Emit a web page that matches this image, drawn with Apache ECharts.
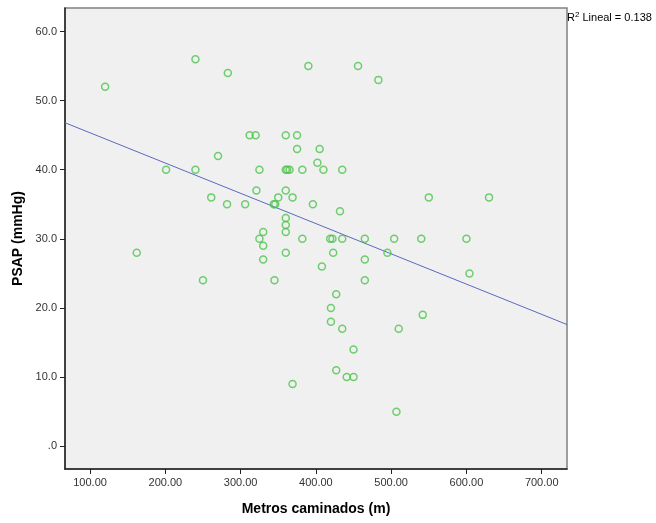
<!DOCTYPE html>
<html>
<head>
<meta charset="utf-8">
<script src="https://cdn.jsdelivr.net/npm/echarts@6/dist/echarts.min.js"></script>
<style>html,body{margin:0;padding:0;background:#fff}#c{width:656px;height:523px}</style>
</head>
<body>
<div id="c"></div>
<script>
// Metros caminados (m)
const metros = [120,162,201,240,240,250,261,270,282,283,306,312,320,321,325,325,330,330,330,344,346,345,350,360,360,362,365,360,360,360,360,360,369,369,375,375,382,382,390,396,402,405,408,410,419,422,420,420,423,427,427,432,435,435,435,441,450,450,456,465,465,465,483,495,504,507,510,540,542,550,600,604,630];
// PSAP (mmHg)
const psap   = [52,28,40,56,40,24,36,42,35,54,35,45,45,37,40,30,31,29,27,35,35,24,36,45,40,40,40,37,33,32,31,28,36,9,45,43,40,30,55,35,41,43,26,40,30,30,20,18,28,22,11,34,40,30,17,10,14,10,55,30,27,24,53,28,30,5,17,30,19,36,30,25,36];
// Linear fit line endpoints
const fitX = [66.7, 733.6];
const fitY = [46.8, 17.6];
const xTicks = [100,200,300,400,500,600,700];
const yTicks = [0,10,20,30,40,50,60];
const r2Text = '0.138';

const chart = echarts.init(document.getElementById('c'));
const labelStyle = {color:'#333', fontSize:11, fontFamily:'Liberation Sans, Arial, sans-serif'};
chart.setOption({
  animation:false,
  grid:{left:65, right:89, top:8, bottom:54, show:true, backgroundColor:'#f0f0f0', borderColor:'#808080', borderWidth:1.5},
  xAxis:{
    type:'value', min:66.7, max:733.6,
    name:'Metros caminados (m)', nameLocation:'middle', nameGap:33,
    nameTextStyle:{fontSize:14, fontWeight:'bold', color:'#000', fontFamily:'Liberation Sans, Arial, sans-serif'},
    axisLine:{show:true, onZero:false, lineStyle:{color:'#222', width:1.5}},
    axisTick:{show:true, length:5, customValues:xTicks, lineStyle:{color:'#222'}},
    axisLabel:Object.assign({customValues:xTicks, margin:8, formatter:v=>v.toFixed(2)}, labelStyle),
    splitLine:{show:false}
  },
  yAxis:{
    type:'value', min:-3.3, max:63.4,
    name:'PSAP (mmHg)', nameLocation:'middle', nameGap:40,
    nameTextStyle:{fontSize:14, fontWeight:'bold', color:'#000', fontFamily:'Liberation Sans, Arial, sans-serif'},
    axisLine:{show:true, onZero:false, lineStyle:{color:'#222', width:1.5}},
    axisTick:{show:true, length:5, customValues:yTicks, lineStyle:{color:'#222'}},
    axisLabel:Object.assign({customValues:yTicks, margin:8, formatter:v=>v===0?'.0':v.toFixed(1)}, labelStyle),
    splitLine:{show:false}
  },
  graphic:[{
    type:'text', left:567, top:11,
    style:{
      text:'R{sup|2} Lineal = '+r2Text,
      fill:'#000', fontSize:11, fontFamily:'Liberation Sans, Arial, sans-serif',
      rich:{sup:{fontSize:8, verticalAlign:'top', padding:[0,0,5,0]}}
    }
  }],
  series:[
    {
      type:'line', data:fitX.map((x,i)=>[x,fitY[i]]), symbol:'none',
      lineStyle:{color:'#5a6ac0', width:1}, z:2
    },
    {
      type:'scatter', data:metros.map((x,i)=>[x,psap[i]]),
      symbol:'circle', symbolSize:7,
      itemStyle:{color:'rgba(0,0,0,0)', borderColor:'#4cc44c', borderWidth:1.5}, z:3
    }
  ]
});
</script>
</body>
</html>
